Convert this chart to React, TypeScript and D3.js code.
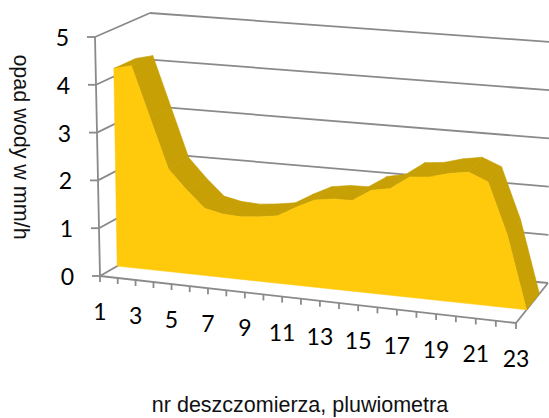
import * as d3 from 'd3';

// gauge numbers and rainfall intensity (mm/h)
const categories = [1, 2, 3, 4, 5, 6, 7, 8, 9, 10, 11, 12, 13, 14, 15, 16, 17, 18, 19, 20, 21, 22, 23];
const rainfall = [4.17, 4.26, 3.21, 2.16, 1.76, 1.41, 1.33, 1.31, 1.35, 1.41, 1.63, 1.82, 1.88, 1.89, 2.14, 2.22, 2.5, 2.54, 2.65, 2.72, 2.56, 1.5, 0];
const xTickLabels = [1, 3, 5, 7, 9, 11, 13, 15, 17, 19, 21, 23];
const yTicks = [0, 1, 2, 3, 4, 5];

type Pt = [number, number];

// screen corners of the 3D box (front/back, left/right, bottom/top)
const FLB: Pt = [100, 276], FLT: Pt = [95, 37], FRB: Pt = [516, 323], FRT: Pt = [519, 80];
const BLB: Pt = [152, 246], BLT: Pt = [150, 13], BRB: Pt = [548, 283], BRT: Pt = [550, 42];

const lerp = (a: Pt, b: Pt, t: number): Pt => [a[0] + (b[0] - a[0]) * t, a[1] + (b[1] - a[1]) * t];

const uScale = d3.scaleLinear().domain([1, 23]).range([0, 1]);
const vScale = d3.scaleLinear().domain([0, 5]).range([0, 1]);
// slight foreshortening along the category axis
const persp = (u: number) => u / (u + 1.07 * (1 - u));

function project(cat: number, val: number, w: number): Pt {
    const u = persp(uScale(cat));
    const t = vScale(val);
    const front = lerp(lerp(FLB, FRB, u), lerp(FLT, FRT, u), t);
    const back = lerp(lerp(BLB, BRB, u), lerp(BLT, BRT, u), t);
    return lerp(front, back, w);
}

const W_FRONT = 0.33, W_BACK = 0.73;
const GRID = '#8a8a8a';
const line = d3.line();

const App = () => {
    const first = categories[0], last = categories[categories.length - 1];
    const frontTop = categories.map((c, i) => project(c, rainfall[i], W_FRONT));
    const backTop = categories.map((c, i) => project(c, rainfall[i], W_BACK));
    const frontFace = [...frontTop, project(last, 0, W_FRONT), project(first, 0, W_FRONT)];
    const topQuads = frontTop.slice(0, -1).map((p, i) => [p, frontTop[i + 1], backTop[i + 1], backTop[i]] as Pt[]);

    return (
        <svg width={549} height={418} style={{ position: 'absolute', left: 0, top: 0, background: '#fff' }}>
            {/* back wall gridlines */}
            {yTicks.map(v => (
                <path key={'b' + v} d={line([project(first, v, 1), project(last, v, 1)])!} stroke={GRID} strokeWidth={1.8} fill="none" />
            ))}
            {/* side wall gridlines */}
            {yTicks.map(v => (
                <path key={'s' + v} d={line([project(first, v, 0), project(first, v, 1)])!} stroke={GRID} strokeWidth={1.8} fill="none" />
            ))}
            {/* floor right edge */}
            <path d={line([project(last, 0, 0), project(last, 0, 1)])!} stroke={GRID} strokeWidth={1.8} fill="none" />

            {/* area: top surface then front face */}
            {topQuads.map((q, i) => (
                <path key={'q' + i} d={line(q)! + 'Z'} fill="#c6a004" stroke="#c6a004" strokeWidth={0.6} strokeLinejoin="round" />
            ))}
            <path d={line(frontFace)! + 'Z'} fill="#ffc90c" stroke="#ffc90c" strokeWidth={0.5} />

            {/* value axis */}
            <path d={line([project(first, 0, 0), project(first, 5, 0)])!} stroke={GRID} strokeWidth={1.8} fill="none" />
            {yTicks.map(v => {
                const p = project(first, v, 0);
                return (
                    <g key={'y' + v}>
                        <path d={line([p, [p[0] - 8, p[1]]])!} stroke={GRID} strokeWidth={1.8} />
                        <text x={p[0] - 26} y={p[1]} textAnchor="end" dominantBaseline="central"
                            style={{ fontFamily: 'Lato, sans-serif', fontSize: 23 }} fill="#000">{v}</text>
                    </g>
                );
            })}

            {/* category axis */}
            <path d={line([project(first, 0, 0), project(last, 0, 0)])!} stroke={GRID} strokeWidth={1.8} fill="none" />
            {categories.map(c => {
                const p = project(c, 0, 0);
                return <path key={'t' + c} d={line([p, [p[0], p[1] + 6]])!} stroke={GRID} strokeWidth={1.8} />;
            })}
            {xTickLabels.map(c => {
                const p = project(c, 0, 0);
                return (
                    <text key={'x' + c} x={p[0]} y={p[1] + 35} textAnchor="middle" dominantBaseline="central"
                        style={{ fontFamily: 'Lato, sans-serif', fontSize: 23 }} fill="#000">{c}</text>
                );
            })}

            {/* axis titles */}
            <text transform="translate(21,147) rotate(90)" textAnchor="middle" dominantBaseline="central"
                style={{ fontFamily: '"Liberation Sans", Arial, sans-serif', fontSize: 21.5 }} fill="#111">opad wody w mm/h</text>
            <text x={300} y={405} textAnchor="middle" dominantBaseline="central"
                style={{ fontFamily: '"Liberation Sans", Arial, sans-serif', fontSize: 21.5 }} fill="#111">nr deszczomierza, pluwiometra</text>
        </svg>
    );
};

export default App;
